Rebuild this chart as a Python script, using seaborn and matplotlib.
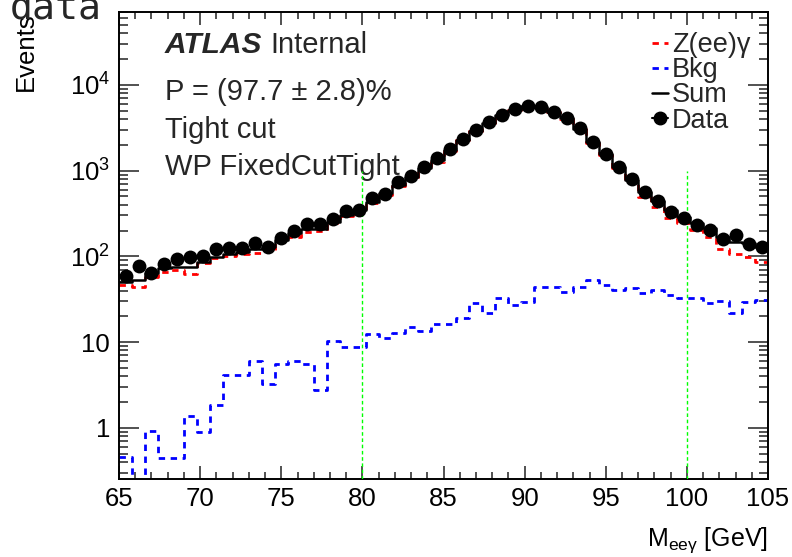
import numpy as np
import pandas as pd
import matplotlib
matplotlib.use("Agg")
import matplotlib.pyplot as plt
import seaborn as sns
from matplotlib.lines import Line2D
from matplotlib.ticker import (FixedLocator, FixedFormatter, LogLocator,
                               NullFormatter, MultipleLocator)

# ---------------- data ----------------
x_min, x_max, n_bins = 65, 105, 50

data_counts = [58.9, 77.1, 64.4, 81.3, 93.8, 97.3, 100.8, 120.7, 125, 125,
               141.9, 129.4, 164.8, 197.3, 236, 236, 270, 340, 347, 475,
               533, 730, 864, 1110, 1415, 1774, 2340, 2977, 3659, 4453,
               5190, 5718, 5568, 4868, 4074, 3114, 2138, 1562, 1111, 791,
               567, 442, 332, 282, 232, 203, 159, 177, 139, 129]

sum_counts = [50.5, 52.9, 63.3, 72.4, 75.7, 75.7, 86.5, 99, 108, 113,
              122, 129, 155, 185, 208, 208, 253, 303, 347, 433,
              543, 679, 849, 1064, 1330, 1720, 2290, 2930, 3620, 4400,
              5150, 5650, 5550, 4850, 4050, 3080, 2150, 1560, 1100, 780,
              560, 442, 345, 285, 243, 212, 169, 148, 145, 129]

zgamma_counts = [46, 44, 57.8, 66, 69, 63, 83, 95, 101, 106,
                 110, 118, 148, 169, 194, 197, 247, 295, 317, 415,
                 519, 661, 813, 1016, 1270, 1700, 2270, 2900, 3600, 4370,
                 5120, 5620, 5510, 4800, 4010, 3040, 2095, 1510, 1060, 740,
                 496, 379, 280, 243, 203, 169, 122, 108, 99, 86.5]

bkg_counts = [0.455, 0, 0.91, 0.45, 0.45, 1.38, 0.90, 1.85, 4.18, 4.18,
              6.1, 3.24, 5.58, 6.1, 5.58, 2.78, 10.3, 8.86, 8.86, 12.4,
              11.1, 12.8, 15.1, 13.6, 16.5, 16.5, 19.0, 28.5, 21.7, 32.9,
              27.2, 29.2, 44.0, 44.0, 38.3, 44.0, 53.6, 45.9, 40.1, 43.1,
              37.6, 40.1, 35.6, 32.6, 32.6, 28.7, 29.8, 21.9, 29.2, 30.6]

cut_lines = [80, 100]
cut_top = 1000
y_range = (0.254, 70500)
y_ticks = [1, 10, 100, 1000, 10000]
y_tick_labels = ["1", "10", r"$10^{2}$", r"$10^{3}$", r"$10^{4}$"]

legend_labels = ["Z(ee)γ", "Bkg", "Sum", "Data"]
text_lines = ["P = (97.7 ± 2.8)%", "Tight cut", "WP FixedCutTight"]

# ---------------- style ----------------
sns.set_theme(style="ticks")
plt.rcParams["font.family"] = ["Liberation Sans", "DejaVu Sans"]
plt.rcParams["mathtext.fontset"] = "custom"
plt.rcParams["mathtext.rm"] = "Liberation Sans"
plt.rcParams["mathtext.it"] = "Liberation Sans:italic"
plt.rcParams["mathtext.bf"] = "Liberation Sans:bold"
plt.rcParams["mathtext.sf"] = "Liberation Sans"

edges = list(np.linspace(x_min, x_max, n_bins + 1))
centers = [0.5 * (a + b) for a, b in zip(edges[:-1], edges[1:])]
df = pd.DataFrame({"m": centers, "data": data_counts, "sum": sum_counts,
                   "zg": zgamma_counts, "bkg": bkg_counts})

fig = plt.figure(figsize=(7.92, 5.57), dpi=100)
ax = fig.add_axes([0.1503, 0.1400, 0.8194, 0.8384])
ax.set_yscale("log")

dash = (0, (2.3, 2.0))
sns.histplot(data=df, x="m", weights="bkg", bins=edges, element="step",
             fill=False, color="#0000ff", linewidth=2.0, linestyle=dash, ax=ax)
sns.histplot(data=df, x="m", weights="zg", bins=edges, element="step",
             fill=False, color="#ff0000", linewidth=2.0, linestyle=dash, ax=ax)
sns.histplot(data=df, x="m", weights="sum", bins=edges, element="step",
             fill=False, color="black", linewidth=1.8, ax=ax)
sns.scatterplot(data=df, x="m", y="data", color="black", s=100,
                edgecolor="black", linewidth=0, zorder=5, ax=ax, legend=False)

ax.vlines(cut_lines, y_range[0], cut_top, colors="#00ff00",
          linestyles=(0, (2.6, 1.9)), linewidth=1.0, zorder=4)

ax.set_xlim(x_min, x_max)
ax.set_ylim(*y_range)

ax.xaxis.set_major_locator(MultipleLocator(5))
ax.xaxis.set_minor_locator(MultipleLocator(1))
ax.yaxis.set_major_locator(FixedLocator(y_ticks))
ax.yaxis.set_major_formatter(FixedFormatter(y_tick_labels))
ax.yaxis.set_minor_locator(LogLocator(base=10, subs=np.arange(2, 10), numticks=30))
ax.yaxis.set_minor_formatter(NullFormatter())

ax.tick_params(which="both", direction="in", top=True, right=True,
               color="#222222", width=1.1)
ax.tick_params(axis="x", which="major", length=9.7, labelsize=18.5, pad=5.5,
               labelcolor="black")
ax.tick_params(axis="x", which="minor", length=5)
ax.tick_params(axis="y", which="major", length=14.4, labelsize=18.5, pad=6.5,
               labelcolor="black")
ax.tick_params(axis="y", which="minor", length=6.5)
for sp in ax.spines.values():
    sp.set_linewidth(1.4)
    sp.set_color("black")

ax.set_xlabel(r"M$_{\mathrm{eeγ}}$ [GeV]", fontsize=18, loc="right", color="black")
ax.xaxis.set_label_coords(1.0, -0.100)
ax.set_ylabel("Events", fontsize=18.5, loc="top", color="black")
ax.yaxis.set_label_coords(-0.125, 1.0)

# text annotations
ax.text(0.0709, 0.9128, "ATLAS", transform=ax.transAxes, fontsize=21.5,
        fontweight="bold", fontstyle="italic", va="baseline")
ax.text(0.2327, 0.9128, "Internal", transform=ax.transAxes, fontsize=21,
        va="baseline")
for yy, t in zip([0.8116, 0.7302, 0.651], text_lines):
    ax.text(0.0709, yy, t, transform=ax.transAxes, fontsize=21, va="baseline")

handles = [
    Line2D([], [], color="#ff0000", linewidth=2.0, linestyle=dash),
    Line2D([], [], color="#0000ff", linewidth=2.0, linestyle=dash),
    Line2D([], [], color="black", linewidth=1.8),
    Line2D([], [], color="black", linewidth=1.5, marker="o", markersize=9),
]
ax.legend(handles, legend_labels, loc="upper left",
          bbox_to_anchor=(0.821, 0.957), fontsize=19.5, frameon=False,
          handlelength=0.6, handletextpad=0.15, labelspacing=-0.03,
          borderpad=0, borderaxespad=0)

fig.text(0.0126, 0.967, "data", fontfamily="DejaVu Sans Mono", fontsize=27.5,
         va="baseline", ha="left")

fig.savefig("out.png", dpi=100)
